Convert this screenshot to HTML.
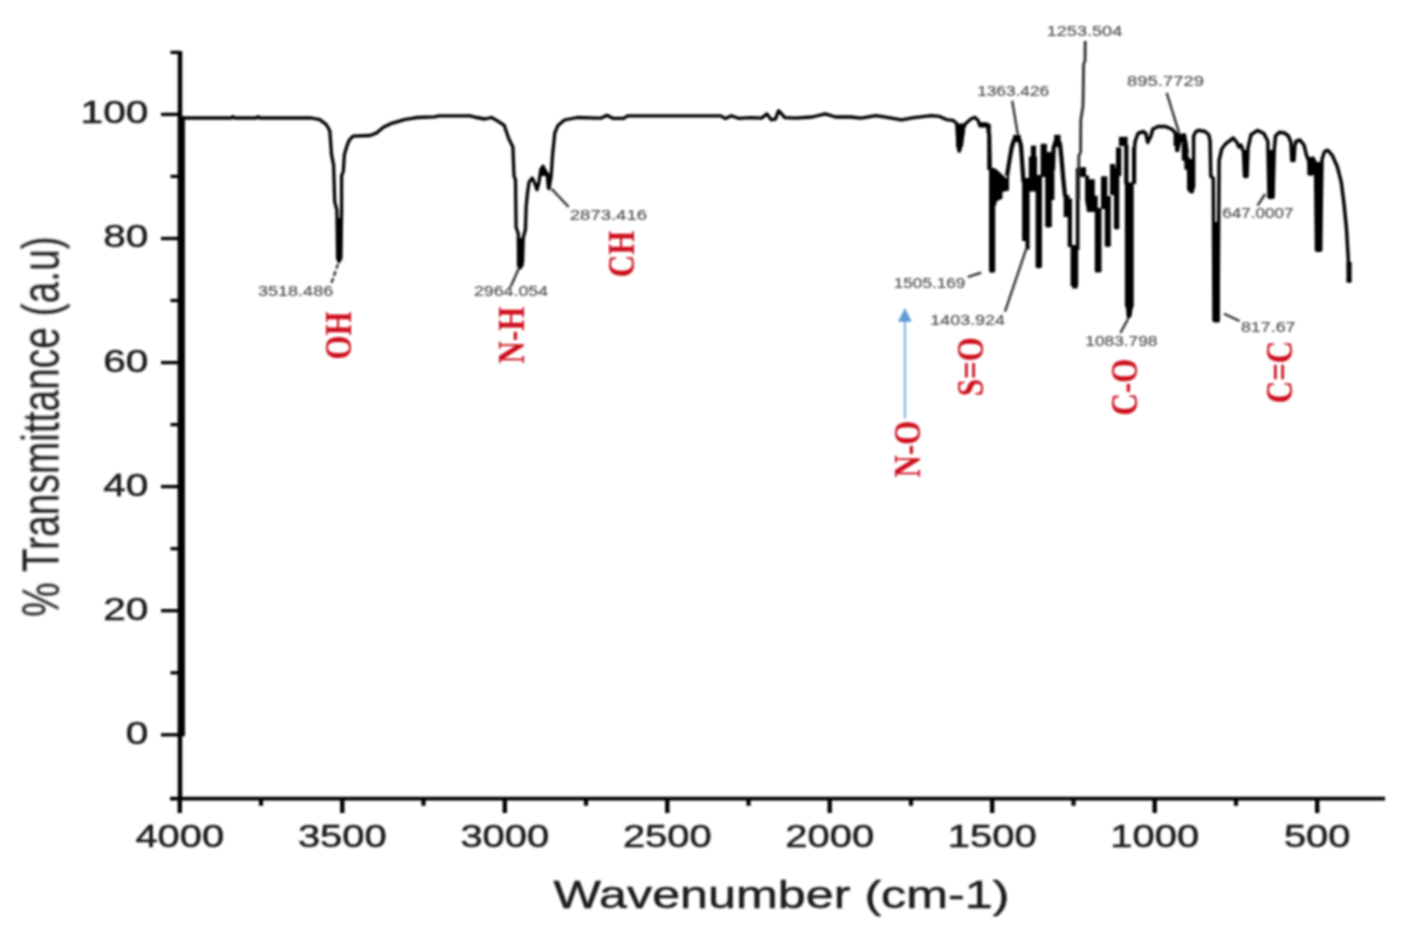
<!DOCTYPE html>
<html lang="en"><head><meta charset="utf-8"><title>FTIR spectrum</title>
<style>html,body{margin:0;padding:0;background:#fff}body{width:1417px;height:932px;overflow:hidden}svg{display:block}</style>
</head><body>
<svg width="1417" height="932" viewBox="0 0 1417 932">
<defs><filter id="soft" x="0" y="0" width="100%" height="100%" filterUnits="userSpaceOnUse"><feGaussianBlur stdDeviation="0.8"/></filter></defs>
<rect width="1417" height="932" fill="#fff"/>
<g filter="url(#soft)">
<g stroke="#000" fill="none">
<line x1="180.0" y1="51" x2="180.0" y2="800.3" stroke-width="4.5"/>
<line x1="170" y1="798.6" x2="1385" y2="798.6" stroke-width="3.6"/>
<line x1="161" y1="734.8" x2="180.0" y2="734.8" stroke-width="3.3"/>
<line x1="161" y1="610.7" x2="180.0" y2="610.7" stroke-width="3.3"/>
<line x1="161" y1="486.6" x2="180.0" y2="486.6" stroke-width="3.3"/>
<line x1="161" y1="362.6" x2="180.0" y2="362.6" stroke-width="3.3"/>
<line x1="161" y1="238.5" x2="180.0" y2="238.5" stroke-width="3.3"/>
<line x1="161" y1="114.4" x2="180.0" y2="114.4" stroke-width="3.3"/>
<line x1="170.5" y1="672.8" x2="180.0" y2="672.8" stroke-width="3.3"/>
<line x1="170.5" y1="548.7" x2="180.0" y2="548.7" stroke-width="3.3"/>
<line x1="170.5" y1="424.6" x2="180.0" y2="424.6" stroke-width="3.3"/>
<line x1="170.5" y1="300.5" x2="180.0" y2="300.5" stroke-width="3.3"/>
<line x1="170.5" y1="176.4" x2="180.0" y2="176.4" stroke-width="3.3"/>
<line x1="170.5" y1="52.4" x2="180.0" y2="52.4" stroke-width="3.3"/>
<line x1="1317.2" y1="798" x2="1317.2" y2="813" stroke-width="4.4"/>
<line x1="1154.7" y1="798" x2="1154.7" y2="813" stroke-width="4.4"/>
<line x1="992.2" y1="798" x2="992.2" y2="813" stroke-width="4.4"/>
<line x1="829.7" y1="798" x2="829.7" y2="813" stroke-width="4.4"/>
<line x1="667.3" y1="798" x2="667.3" y2="813" stroke-width="4.4"/>
<line x1="504.8" y1="798" x2="504.8" y2="813" stroke-width="4.4"/>
<line x1="342.3" y1="798" x2="342.3" y2="813" stroke-width="4.4"/>
<line x1="179.8" y1="798" x2="179.8" y2="813" stroke-width="4.4"/>
<line x1="1236.0" y1="798" x2="1236.0" y2="805.8" stroke-width="4.2"/>
<line x1="1073.5" y1="798" x2="1073.5" y2="805.8" stroke-width="4.2"/>
<line x1="911.0" y1="798" x2="911.0" y2="805.8" stroke-width="4.2"/>
<line x1="748.5" y1="798" x2="748.5" y2="805.8" stroke-width="4.2"/>
<line x1="586.0" y1="798" x2="586.0" y2="805.8" stroke-width="4.2"/>
<line x1="423.5" y1="798" x2="423.5" y2="805.8" stroke-width="4.2"/>
<line x1="261.0" y1="798" x2="261.0" y2="805.8" stroke-width="4.2"/>
</g>
<g font-family="Liberation Sans, Arial, sans-serif" fill="#1c1c1c" stroke="#1c1c1c" stroke-width="0.5">
<text transform="translate(148.3,743.7) scale(1.31,1)" font-size="31" text-anchor="end">0</text>
<text transform="translate(148.3,619.6) scale(1.31,1)" font-size="31" text-anchor="end">20</text>
<text transform="translate(148.3,495.5) scale(1.31,1)" font-size="31" text-anchor="end">40</text>
<text transform="translate(148.3,371.5) scale(1.31,1)" font-size="31" text-anchor="end">60</text>
<text transform="translate(148.3,247.4) scale(1.31,1)" font-size="31" text-anchor="end">80</text>
<text transform="translate(148.3,123.3) scale(1.31,1)" font-size="31" text-anchor="end">100</text>
<text transform="translate(1317.2,847.2) scale(1.31,1)" font-size="30.5" text-anchor="middle">500</text>
<text transform="translate(1154.7,847.2) scale(1.31,1)" font-size="30.5" text-anchor="middle">1000</text>
<text transform="translate(992.2,847.2) scale(1.31,1)" font-size="30.5" text-anchor="middle">1500</text>
<text transform="translate(829.7,847.2) scale(1.31,1)" font-size="30.5" text-anchor="middle">2000</text>
<text transform="translate(667.3,847.2) scale(1.31,1)" font-size="30.5" text-anchor="middle">2500</text>
<text transform="translate(504.8,847.2) scale(1.31,1)" font-size="30.5" text-anchor="middle">3000</text>
<text transform="translate(342.3,847.2) scale(1.31,1)" font-size="30.5" text-anchor="middle">3500</text>
<text transform="translate(179.8,847.2) scale(1.31,1)" font-size="30.5" text-anchor="middle">4000</text>
<text transform="translate(781.5,907.8) scale(1.272,1)" font-size="39.5" text-anchor="middle">Wavenumber (cm-1)</text>
<text transform="translate(58.3,426.6) scale(1.31,1) rotate(-90)" font-size="38.9" stroke="none" text-anchor="middle">% Transmittance (a.u)</text>
</g>
<polyline points="181.0,118.0 231.3,118.0 232.9,116.6 234.5,118.0 256.5,118.0 258.1,116.6 259.7,118.0 311.4,118.0 319.7,119.6 326.1,124.3 329.8,130.8 331.5,154.4 333.6,165.1 334.7,201.6 336.9,210.2 337.6,258.0 339.0,261.5 340.6,258.0 341.6,214.0 341.6,175.8 343.3,171.5 344.4,154.4 347.0,145.8 349.1,140.4 353.0,136.1 370.1,135.5 376.6,132.9 383.0,127.6 391.6,123.3 404.5,119.6 417.3,117.5 434.5,116.8 438.8,115.8 470.0,115.8 476.4,117.5 485.0,119.0 491.5,117.5 497.9,121.1 504.3,125.4 508.6,138.3 512.9,146.9 514.0,175.8 515.5,180.0 516.1,227.3 518.3,233.8 518.9,266.0 520.4,267.7 522.6,261.7 523.2,238.0 525.4,229.5 526.2,205.9 527.5,193.0 529.0,182.3 532.2,178.0 534.4,182.3 537.0,189.8 539.0,182.3 540.8,169.4 543.0,166.2 545.5,171.5 547.3,176.0 549.0,188.7 551.1,176.5 552.6,154.4 554.8,132.9 558.0,125.4 564.4,120.0 577.3,117.5 597.0,118.2 601.0,118.2 606.9,115.3 612.8,118.3 623.7,118.3 627.7,115.8 660.0,115.9 720.6,115.9 725.5,118.6 731.4,115.8 738.3,118.3 751.0,117.7 761.6,118.1 766.9,113.9 771.2,119.8 775.4,119.2 778.6,110.7 784.9,117.7 795.5,118.1 812.4,117.0 825.2,113.9 835.7,117.0 850.6,117.0 861.1,118.1 876.0,115.6 888.7,117.7 901.4,119.8 914.0,117.7 931.0,115.6 939.5,116.4 946.4,119.6 952.9,120.3 956.7,123.5 958.0,146.7 959.3,151.2 961.9,141.5 963.8,127.3 965.7,123.5 970.9,119.0 974.8,117.3 978.0,120.3 979.3,124.1 983.8,124.1 987.6,124.8 988.3,132.5 989.6,134.4 990.3,169.5" fill="none" stroke="#000" stroke-width="3.3" stroke-linejoin="round" stroke-linecap="butt"/>
<polyline points="1007.0,176.0 1009.5,160.0 1011.8,147.0 1014.0,140.0 1016.8,137.2 1019.5,140.0 1021.0,146.0 1022.0,160.0 1023.5,182.0" fill="none" stroke="#000" stroke-width="4.2" stroke-linejoin="round" stroke-linecap="butt"/>
<polyline points="1053.0,170.0 1053.6,148.0 1057.0,137.3 1060.0,144.0 1061.5,158.0 1063.2,178.0 1064.8,194.0 1067.5,203.0 1069.8,215.0" fill="none" stroke="#000" stroke-width="4.2" stroke-linejoin="round" stroke-linecap="butt"/>
<polyline points="1134.2,150.0 1135.2,141.0 1138.0,133.5 1143.2,131.5 1145.8,133.5 1147.7,142.5 1150.9,136.0 1152.8,129.0 1158.6,126.4 1165.1,126.4 1171.5,129.0 1175.4,132.8 1177.3,150.2 1180.5,138.6 1183.7,134.8 1185.7,141.2 1187.0,151.5 1186.0,160.0 1188.5,170.0 1189.5,190.0 1192.0,192.0 1193.6,186.0 1193.6,136.0 1196.0,131.5 1198.5,130.3 1205.0,131.5 1208.8,134.8 1210.1,141.2 1210.8,176.0 1213.3,178.5 1214.0,320.0 1218.0,320.0 1219.1,160.5 1221.7,149.0 1225.6,143.8 1233.3,138.0 1236.9,142.5 1239.0,147.0 1241.0,145.0 1243.5,152.0 1244.5,176.0 1247.0,176.0 1248.0,148.0 1251.0,134.8 1257.5,130.4 1263.9,133.5 1267.8,141.2 1269.0,197.0 1273.0,197.0 1274.2,150.0 1275.5,136.0 1279.4,132.2 1284.5,133.0 1288.4,136.0 1291.0,142.5 1291.8,160.5 1294.0,160.5 1294.8,146.0 1296.1,141.2 1300.0,140.0 1304.0,145.0 1306.5,155.4 1309.1,161.8 1310.0,174.0 1312.0,174.0 1313.0,158.0 1315.5,163.0 1316.5,250.0 1320.5,250.0 1322.0,159.2 1324.6,151.5 1327.7,150.2 1332.3,155.4 1337.4,167.0 1341.3,182.4 1343.9,203.0 1346.5,228.8 1348.3,259.7 1349.0,281.0" fill="none" stroke="#000" stroke-width="3.5" stroke-linejoin="round" stroke-linecap="butt"/>
<g fill="#000">
<rect x="336.4" y="218" width="6.0" height="41.5"/>
<rect x="516.8" y="238" width="6.8" height="28.5"/>
<rect x="956.1" y="123.5" width="8.3" height="11.5"/>
<rect x="956.1" y="135" width="7.1" height="11.6"/>
<rect x="957.4" y="146.6" width="3.9" height="4.6"/>
<rect x="978.5" y="122.5" width="10.0" height="5.0"/>
<rect x="987.2" y="124" width="3.6" height="46.0"/>
<rect x="989" y="168" width="6.2" height="103.0"/>
<rect x="1022.1" y="178" width="7.5" height="63.0"/>
<rect x="1025.5" y="241" width="4.1" height="8.5"/>
<rect x="1028.8" y="156.7" width="8.2" height="34.8"/>
<rect x="1030.8" y="145.6" width="5.3" height="11.4"/>
<rect x="1035.6" y="175" width="6.4" height="91.8"/>
<rect x="1040.6" y="143.8" width="6.3" height="33.2"/>
<rect x="1045.2" y="152" width="6.6" height="74.3"/>
<rect x="1049.6" y="158.6" width="4.8" height="41.4"/>
<rect x="1063.7" y="195" width="5.7" height="22.0"/>
<rect x="1070.6" y="245" width="7.6" height="41.0"/>
<rect x="1072.3" y="286" width="5.2" height="2.5"/>
<rect x="1067.7" y="198.6" width="4.3" height="48.4"/>
<rect x="1075.8" y="168" width="3.7" height="82.0"/>
<rect x="1078.8" y="167.2" width="7.2" height="9.8"/>
<rect x="1013" y="135" width="7.8" height="7.0"/>
<rect x="1054.2" y="134.8" width="6.3" height="12.2"/>
<rect x="1101" y="176.3" width="6.3" height="32.7"/>
<rect x="1104.8" y="196" width="6.0" height="50.0"/>
<rect x="1110" y="164" width="5.2" height="31.0"/>
<rect x="1113.9" y="167.7" width="5.4" height="60.7"/>
<rect x="1116" y="147.4" width="5.3" height="28.6"/>
<rect x="1118.9" y="136.8" width="8.7" height="9.2"/>
<rect x="1124.2" y="145" width="4.3" height="39.0"/>
<rect x="1132" y="147.4" width="4.2" height="36.6"/>
<rect x="1124.9" y="182.4" width="8.8" height="124.1"/>
<rect x="1187" y="159" width="6.5" height="31.0"/>
<rect x="1188.5" y="190" width="5.0" height="2.3"/>
<rect x="1173.6" y="132.5" width="6.8" height="13.5"/>
<rect x="1175" y="146" width="4.4" height="5.5"/>
<rect x="1180.4" y="133.8" width="5.9" height="8.7"/>
<rect x="1181.8" y="142.5" width="5.2" height="18.0"/>
<rect x="1184.4" y="156.7" width="5.1" height="12.8"/>
<rect x="1212.9" y="222" width="6.9" height="99.5"/>
<rect x="1243.3" y="150" width="4.9" height="27.5"/>
<rect x="1267.8" y="150" width="6.5" height="48.0"/>
<rect x="1290.8" y="148" width="4.2" height="13.0"/>
<rect x="1315" y="162" width="7.2" height="89.0"/>
<rect x="1307.3" y="157" width="5.5" height="18.0"/>
<rect x="1346.5" y="262" width="5.1" height="20.0"/>
<rect x="177.8" y="116.4" width="7.1" height="619.9"/>
<polygon points="990.0,168.0 996.5,169.3 1006.5,178.5 1009.0,172.0 1009.0,190.5 1002.5,192.0 1002.5,198.5 1000.5,199.5 996.5,201.5 996.5,205.0 990.0,205.0"/>
<polygon points="539.5,170.0 543.0,165.0 551.0,176.0 549.8,189.0 546.8,189.0 546.0,176.0 541.0,176.0"/>
<polygon points="1085.1,175.4 1089.0,175.4 1089.0,179.2 1094.8,179.2 1094.8,195.7 1097.7,195.7 1097.7,208.0 1101.5,208.0 1101.5,271.0 1100.0,271.8 1096.0,271.8 1094.8,271.0 1094.8,212.0 1087.0,212.0 1085.1,200.0"/>
<polygon points="1124.9,305.0 1133.7,305.0 1132.4,310.0 1131.5,316.4 1128.0,319.5 1126.6,316.4 1126.0,308.0"/>
<rect x="989" y="267.8" width="6.2" height="5" rx="2.2" ry="2.2"/>
<rect x="1035.6" y="263.2" width="6.4" height="5" rx="2.2" ry="2.2"/>
<rect x="1045.2" y="222.4" width="6.6" height="5" rx="2.2" ry="2.2"/>
<rect x="1094.8" y="267.6" width="6.7" height="5" rx="2.2" ry="2.2"/>
<rect x="1104.8" y="242" width="6.0" height="5" rx="2.2" ry="2.2"/>
<rect x="1113.9" y="224.4" width="5.4" height="5" rx="2.2" ry="2.2"/>
<rect x="1212.9" y="317.6" width="6.9" height="5" rx="2.2" ry="2.2"/>
<rect x="1267.8" y="194" width="6.5" height="5" rx="2.2" ry="2.2"/>
<rect x="1315" y="247" width="7.2" height="5" rx="2.2" ry="2.2"/>
<rect x="1243.3" y="173.3" width="4.9" height="5" rx="2.2" ry="2.2"/>
<rect x="1346.5" y="278" width="5.1" height="5" rx="2.2" ry="2.2"/>
</g>
<g stroke="#2a2a2a" stroke-width="2.3" fill="none">
<polyline points="1085.2,41 1085,61 1083.6,64 1083,106 1080.8,120 1080.6,152 1078.8,156 1078.8,200" stroke-width="2.8"/>
<line x1="338" y1="264" x2="331.5" y2="283" stroke-dasharray="5 2.5"/>
<line x1="519" y1="268" x2="511" y2="286"/>
<line x1="551.5" y1="188.7" x2="568.7" y2="207"/>
<line x1="1012.2" y1="100.7" x2="1017.9" y2="135"/>
<line x1="1166.7" y1="92.8" x2="1178.9" y2="132.2"/>
<line x1="967.7" y1="277" x2="981.2" y2="272.7"/>
<line x1="1026.3" y1="248.6" x2="1005" y2="311.7"/>
<line x1="1128" y1="319" x2="1120.4" y2="333"/>
<line x1="1265.2" y1="194" x2="1257.5" y2="205.6"/>
<line x1="1224" y1="313.8" x2="1239.5" y2="321"/>
</g>
<g font-family="Liberation Sans, Arial, sans-serif" font-size="14" fill="#4c4c4c" stroke="#4c4c4c" stroke-width="0.15">
<text x="258.0" y="295.5" textLength="75.2" lengthAdjust="spacingAndGlyphs">3518.486</text>
<text x="473.9" y="295.5" textLength="74.3" lengthAdjust="spacingAndGlyphs">2964.054</text>
<text x="569.8" y="220.4" textLength="77.2" lengthAdjust="spacingAndGlyphs">2873.416</text>
<text x="1046.7" y="35.6" textLength="75.6" lengthAdjust="spacingAndGlyphs">1253.504</text>
<text x="977.2" y="96.2" textLength="71.9" lengthAdjust="spacingAndGlyphs">1363.426</text>
<text x="1127.1" y="85.9" textLength="76.8" lengthAdjust="spacingAndGlyphs">895.7729</text>
<text x="893.8" y="288.2" textLength="71.5" lengthAdjust="spacingAndGlyphs">1505.169</text>
<text x="930.3" y="324.8" textLength="74.7" lengthAdjust="spacingAndGlyphs">1403.924</text>
<text x="1085.3" y="346.4" textLength="72.1" lengthAdjust="spacingAndGlyphs">1083.798</text>
<text x="1222.2" y="218.2" textLength="71.3" lengthAdjust="spacingAndGlyphs">647.0007</text>
<text x="1240.9" y="331.8" textLength="54.6" lengthAdjust="spacingAndGlyphs">817.67</text>
</g>
<g font-family="Liberation Serif, Times New Roman, serif" font-weight="bold" font-size="31" fill="#cd0a1c" text-anchor="middle">
<text transform="translate(350.59999999999997,335.5) scale(1.21,1) rotate(-90)">OH</text>
<text transform="translate(524.0,335) scale(1.21,1) rotate(-90)">N-H</text>
<text transform="translate(633.6999999999999,254) scale(1.21,1) rotate(-90)">CH</text>
<text transform="translate(920.4,449) scale(1.21,1) rotate(-90)">N-O</text>
<text transform="translate(983.1999999999999,366.7) scale(1.21,1) rotate(-90)">S=O</text>
<text transform="translate(1137.2,387) scale(1.21,1) rotate(-90)">C-O</text>
<text transform="translate(1292.0,372) scale(1.21,1) rotate(-90)">C=C</text>
</g>
<line x1="904.9" y1="320" x2="904.9" y2="418.5" stroke="#5b9bd5" stroke-width="1.6"/>
<polygon points="904.9,308 898,321.8 911.8,321.8" fill="#5b9bd5"/>
</g>
</svg>
</body></html>
